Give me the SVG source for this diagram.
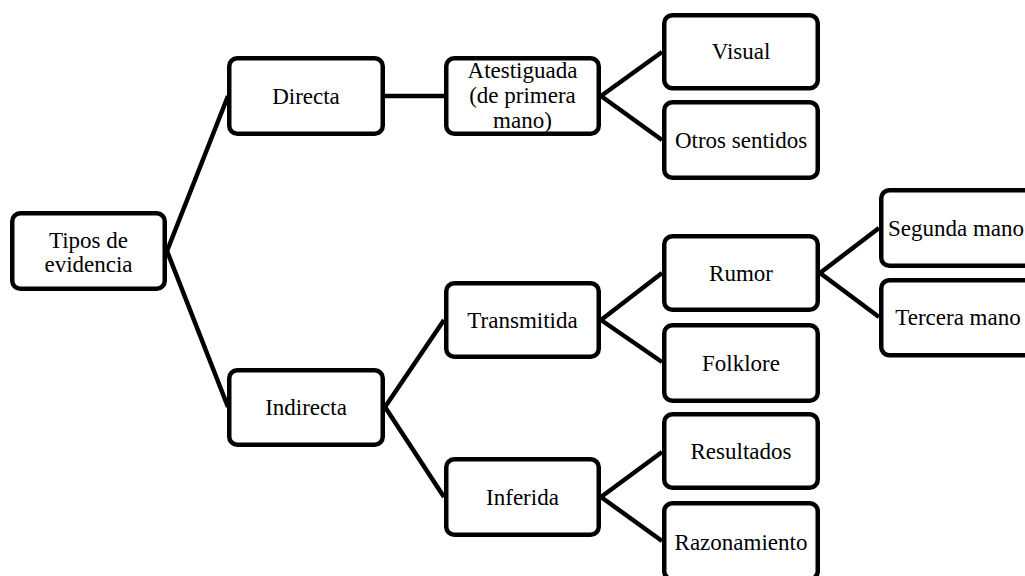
<svg xmlns="http://www.w3.org/2000/svg" width="1025" height="576" viewBox="0 0 1025 576">
<style>
.box{fill:#fff;stroke:#000;stroke-width:4.5}
.lbl{font-size:23px;fill:#000;text-anchor:middle}
.con{stroke:#000;stroke-width:4.5;fill:none}
</style>
<rect width="1025" height="576" fill="#fff"/>
<g id="connectors" class="con">
<line x1="167" y1="251" x2="228" y2="96"/>
<line x1="167" y1="251" x2="228" y2="407"/>
<line x1="385" y1="96" x2="444" y2="96"/>
<line x1="601" y1="96" x2="662" y2="52"/>
<line x1="601" y1="96" x2="662" y2="140"/>
<line x1="385" y1="407" x2="444" y2="320"/>
<line x1="385" y1="407" x2="444" y2="497"/>
<line x1="601" y1="320" x2="662" y2="273"/>
<line x1="601" y1="320" x2="662" y2="362"/>
<line x1="601" y1="497" x2="662" y2="452"/>
<line x1="601" y1="497" x2="662" y2="541"/>
<line x1="820" y1="273" x2="879" y2="228"/>
<line x1="820" y1="273" x2="879" y2="317"/>
</g>
<g font-family="'Liberation Serif', Tinos, 'Times New Roman', 'DejaVu Serif', serif">
<g id="n-tipos"><rect class="box" x="12.25" y="213.25" width="152.5" height="75.5" rx="8"/><text class="lbl" x="88.5" y="248">Tipos de</text><text class="lbl" x="88.5" y="272">evidencia</text></g>
<g id="n-directa"><rect class="box" x="229.25" y="58.25" width="153.5" height="75.5" rx="8"/><text class="lbl" x="306" y="104">Directa</text></g>
<g id="n-atestiguada"><rect class="box" x="446.25" y="58.25" width="152.5" height="75.5" rx="8"/><text class="lbl" x="522.5" y="78">Atestiguada</text><text class="lbl" x="522.5" y="103">(de primera</text><text class="lbl" x="522.5" y="128">mano)</text></g>
<g id="n-visual"><rect class="box" x="664.25" y="15.25" width="153.5" height="73" rx="8"/><text class="lbl" x="741" y="59">Visual</text></g>
<g id="n-otros"><rect class="box" x="664.25" y="102.25" width="153.5" height="75.5" rx="8"/><text class="lbl" x="741" y="148">Otros sentidos</text></g>
<g id="n-indirecta"><rect class="box" x="229.25" y="370.25" width="153.5" height="74.5" rx="8"/><text class="lbl" x="306" y="415">Indirecta</text></g>
<g id="n-transmitida"><rect class="box" x="446.25" y="283.25" width="152.5" height="73.5" rx="8"/><text class="lbl" x="522.5" y="328">Transmitida</text></g>
<g id="n-inferida"><rect class="box" x="446.25" y="459.25" width="152.5" height="75.5" rx="8"/><text class="lbl" x="522.5" y="505">Inferida</text></g>
<g id="n-rumor"><rect class="box" x="664.25" y="236.25" width="153.5" height="73.5" rx="8"/><text class="lbl" x="741" y="281">Rumor</text></g>
<g id="n-folklore"><rect class="box" x="664.25" y="325.25" width="153.5" height="75.5" rx="8"/><text class="lbl" x="741" y="371">Folklore</text></g>
<g id="n-resultados"><rect class="box" x="664.25" y="414.25" width="153.5" height="73.5" rx="8"/><text class="lbl" x="741" y="459">Resultados</text></g>
<g id="n-razonamiento"><rect class="box" x="664.25" y="503.25" width="153.5" height="76" rx="8"/><text class="lbl" x="741" y="550">Razonamiento</text></g>
<g id="n-segunda"><rect class="box" x="881.25" y="190.25" width="154" height="75.5" rx="8"/><text class="lbl" x="956" y="236">Segunda mano</text></g>
<g id="n-tercera"><rect class="box" x="881.25" y="280.25" width="154" height="75" rx="8"/><text class="lbl" x="958" y="325">Tercera mano</text></g>
</g>
</svg>
